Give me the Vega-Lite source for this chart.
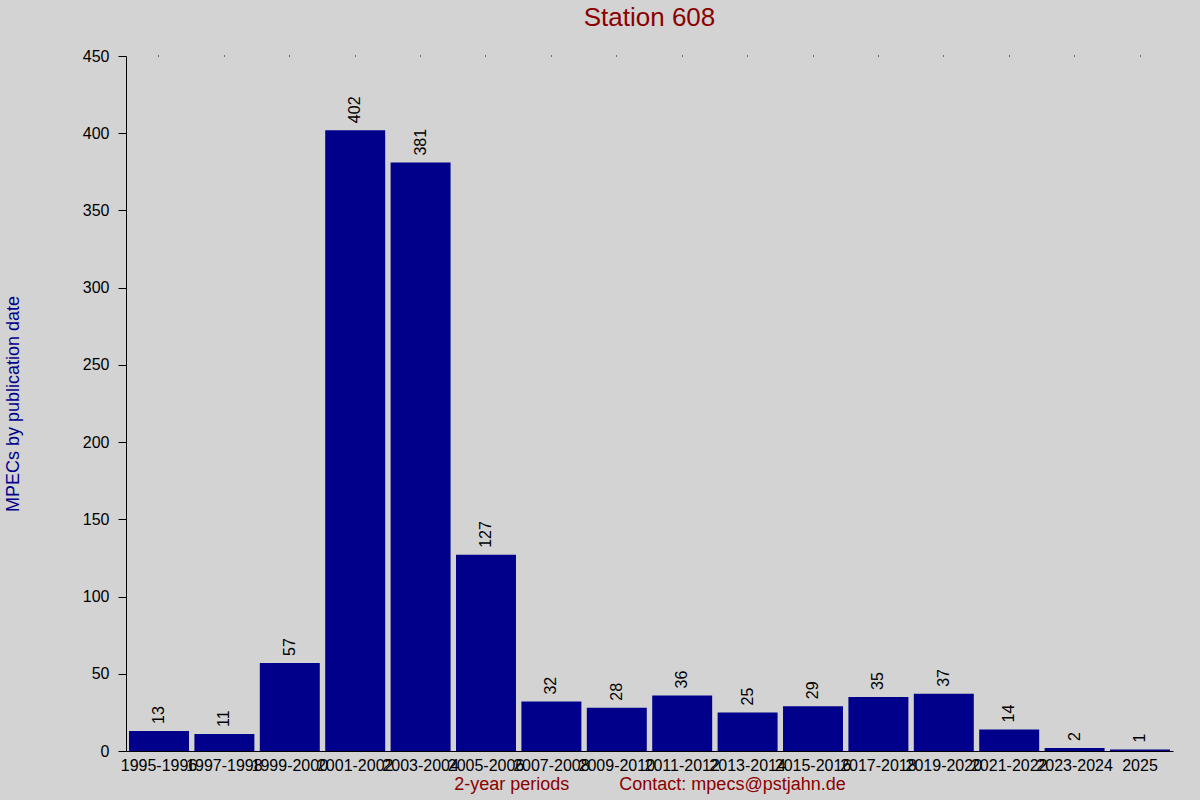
{
  "$schema": "https://vega.github.io/schema/vega-lite/v6.json",
  "width": 1047,
  "height": 695,
  "autosize": {"type": "none"},
  "padding": {"left": 126, "top": 56, "right": 27, "bottom": 49},
  "background": "#d3d3d3",
  "config": {"view": {"stroke": null}, "font": "Liberation Sans"},
  "title": {
    "text": "Station 608",
    "fontSize": 26,
    "font": "Liberation Sans",
    "fontWeight": "normal",
    "color": "#8b0000",
    "baseline": "alphabetic",
    "offset": -4,
    "anchor": "middle",
    "frame": "group"
  },
  "data": {
    "values": [
      {"period": "1995-1996", "count": 13},
      {"period": "1997-1998", "count": 11},
      {"period": "1999-2000", "count": 57},
      {"period": "2001-2002", "count": 402},
      {"period": "2003-2004", "count": 381},
      {"period": "2005-2006", "count": 127},
      {"period": "2007-2008", "count": 32},
      {"period": "2009-2010", "count": 28},
      {"period": "2011-2012", "count": 36},
      {"period": "2013-2014", "count": 25},
      {"period": "2015-2016", "count": 29},
      {"period": "2017-2018", "count": 35},
      {"period": "2019-2020", "count": 37},
      {"period": "2021-2022", "count": 14},
      {"period": "2023-2024", "count": 2},
      {"period": "2025", "count": 1}
    ]
  },
  "encoding": {
    "y": {
      "field": "count",
      "type": "quantitative",
      "scale": {"domain": [0, 450], "nice": false, "zero": true},
      "axis": {
        "values": [0, 50, 100, 150, 200, 250, 300, 350, 400, 450],
        "grid": false,
        "tickSize": 8,
        "tickColor": "black",
        "domainColor": "black",
        "labelFontSize": 16,
        "labelColor": "black",
        "labelPadding": 9,
        "labelFont": "Liberation Sans",
        "title": "MPECs by publication date",
        "titleFont": "Liberation Sans",
        "titleFontSize": 18,
        "titleColor": "#00008b",
        "titleFontWeight": "normal",
        "titleAngle": -90,
        "titleX": -108,
        "titleY": 347.5,
        "titleAlign": "center",
        "titleBaseline": "alphabetic"
      }
    }
  },
  "layer": [
    {
      "mark": {"type": "bar", "color": "#00008b"},
      "encoding": {
        "x": {
          "field": "period",
          "type": "nominal",
          "sort": null,
          "scale": {"paddingInner": 0.083, "paddingOuter": 0.046},
          "axis": {
            "orient": "bottom",
            "domainColor": "black",
            "ticks": false,
            "labelAngle": 0,
            "labelFontSize": 16,
            "labelFont": "Liberation Sans",
            "labelColor": "black",
            "labelPadding": 6,
            "labelOverlap": false,
            "labelBound": false,
            "labelFlush": false,
            "title": "2-year periods\u00a0\u00a0\u00a0\u00a0\u00a0\u00a0\u00a0\u00a0\u00a0\u00a0Contact: mpecs@pstjahn.de",
            "titleFont": "Liberation Sans",
            "titleFontSize": 18,
            "titleColor": "#8b0000",
            "titleFontWeight": "normal",
            "titleBaseline": "alphabetic",
            "titleAlign": "center",
            "titleX": 523.5,
            "titleY": 38
          }
        }
      }
    },
    {
      "mark": {
        "type": "text",
        "angle": -90,
        "align": "left",
        "baseline": "middle",
        "dx": 7,
        "fontSize": 16,
        "font": "Liberation Sans",
        "color": "black"
      },
      "encoding": {
        "x": {
          "field": "period",
          "type": "nominal",
          "sort": null,
          "axis": {
            "orient": "top",
            "domain": false,
            "labels": false,
            "ticks": true,
            "tickSize": 1,
            "tickColor": "black",
            "title": null
          }
        },
        "text": {"field": "count", "type": "quantitative"}
      }
    }
  ],
  "resolve": {"axis": {"x": "independent"}}
}
